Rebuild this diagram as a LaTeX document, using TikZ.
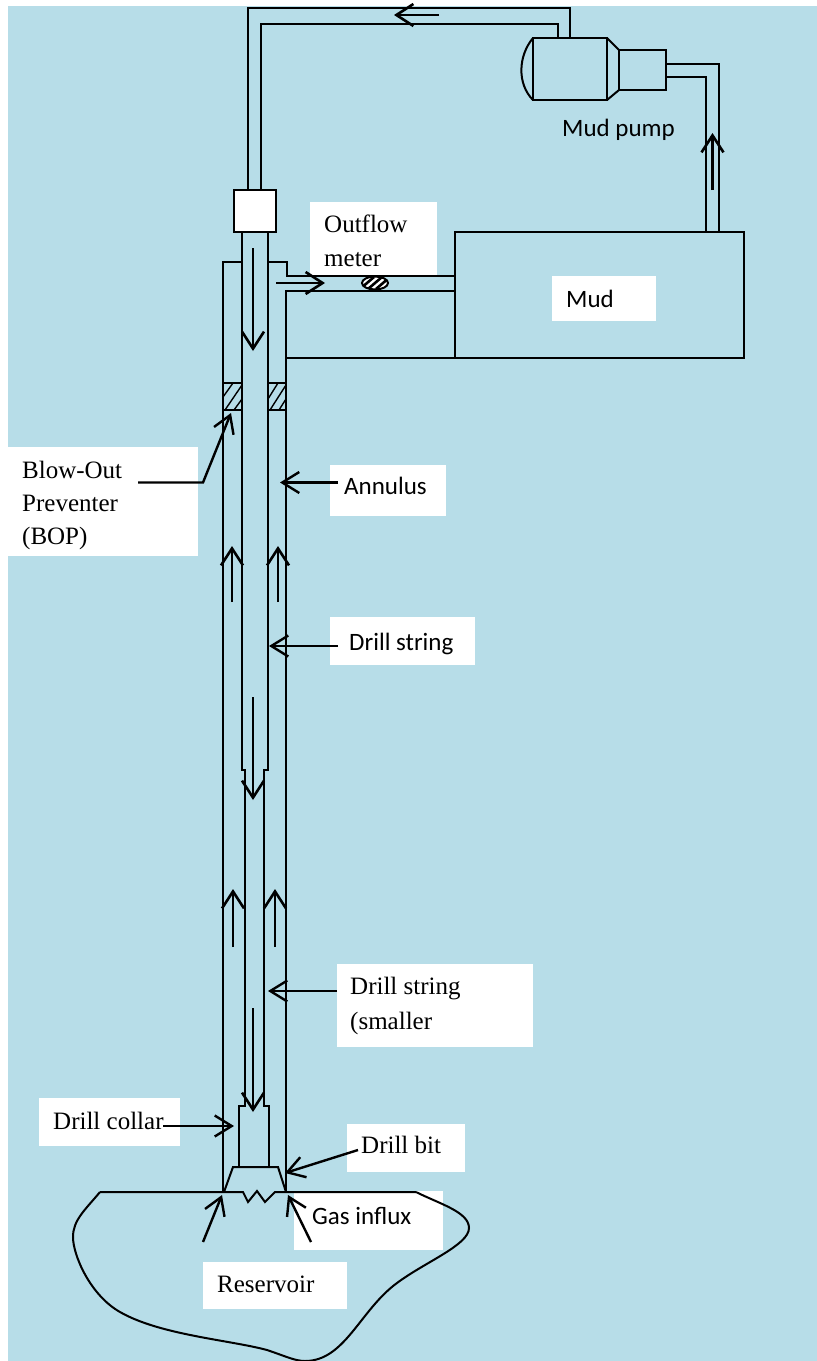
\documentclass[tikz,border=0pt]{standalone}
\usepackage{fontspec}
\setmainfont{Liberation Serif}
\newfontfamily\calib{Carlito}
\usetikzlibrary{arrows.meta}
\definecolor{bgblue}{HTML}{B7DDE8}
\tikzset{
  ln/.style={draw=black,line width=2pt},
  flow/.style={draw=black,line width=2.6pt,-{Straight Barb[length=17pt,width=22pt,line width=2.6pt]}},
  leader/.style={draw=black,line width=2.4pt,-{Straight Barb[length=17pt,width=21pt,line width=2.4pt]}},
  whitebox/.style={fill=white,draw=none},
  lab/.style={anchor=base west,inner sep=0pt,font=\fontsize{25}{25}\selectfont},
  calab/.style={anchor=base west,inner sep=0pt,font=\calib\fontsize{25}{25}\selectfont},
  hatchline/.style={draw=black,line width=1.4pt}
}
\begin{document}
\begin{tikzpicture}[x=1pt,y=-1pt]
\useasboundingbox (0,0) rectangle (817,1361);
\fill[white] (0,0) rectangle (817,1361);
\fill[bgblue] (8,6) rectangle (817,1361);
% white label boxes
\fill[whitebox] (310,202) rectangle (437,275);
\fill[whitebox] (552,276) rectangle (656,321);
\fill[whitebox] (8,447) rectangle (198,556);
\fill[whitebox] (330,465) rectangle (446,516);
\fill[whitebox] (330,617) rectangle (475,665);
\fill[whitebox] (337,964) rectangle (533,1047);
\fill[whitebox] (39,1098) rectangle (180,1146);
\fill[whitebox] (347,1124) rectangle (465,1172);
\fill[whitebox] (294,1191) rectangle (443,1250);
\fill[whitebox] (203,1262) rectangle (347,1309);
% supply pipe
\draw[ln] (248,190) -- (248,8) -- (570,8) -- (570,38);
\draw[ln] (261,190) -- (261,24) -- (558,24) -- (558,38);
\draw[flow] (439,15) -- (394,15);
% pump
\draw[ln] (533,38) rectangle (607,100);
\draw[ln] (533,38) .. controls (518,56) and (517,84) .. (533,100);
\draw[ln] (607,38) -- (619,50);
\draw[ln] (607,100) -- (619,90);
\draw[ln] (619,50) rectangle (666,90);
\draw[ln] (666,64) -- (719,64) -- (719,232);
\draw[ln] (666,77) -- (706,77) -- (706,232);
\draw[flow] (712.5,190) -- (712.5,133);
% mud tank
\draw[ln] (455,232) rectangle (744,358);
\draw[ln] (286,358) -- (455,358);
% swivel
\draw[ln,fill=white] (233.5,190) rectangle (275.5,232);
% drill string
\draw[ln] (242,232) -- (242,770) -- (245,770) -- (245,1106) -- (239,1106) -- (239,1168);
\draw[ln] (268,232) -- (268,770) -- (264,770) -- (264,1106) -- (269,1106) -- (269,1168);
% casing
\draw[ln] (242,262) -- (223,262) -- (223,1192);
\draw[ln] (268,262) -- (287,262) -- (287,276) -- (455,276);
\draw[ln] (455,291) -- (286,291) -- (286,1192);
% BOP
\draw[ln] (223,383) rectangle (242,410);
\draw[ln] (268,383) rectangle (286,410);
\foreach \xa/\ya/\xb/\yb in {223/397/233/383,225/410/242/385,234/410/242/399}
  \draw[hatchline] (\xa,\ya) -- (\xb,\yb);
\foreach \xa/\ya/\xb/\yb in {268/399/278/383,270/410/286/385,279/410/286/399}
  \draw[hatchline] (\xa,\ya) -- (\xb,\yb);
% flow meter
\draw[line width=2pt,fill=white] (375,283) ellipse (13 and 6.5);
\begin{scope}
\clip (375,283) ellipse (13 and 6.5);
\foreach \d in {-8,0,8}
  \draw[line width=2.6pt] (375+\d-7,289) -- (375+\d+7,277);
\end{scope}
% flow arrows
\draw[flow] (276,283) -- (325,283);
\draw[flow] (253,248) -- (253,351);
\draw[flow] (253,697) -- (253,800);
\draw[flow] (253,1008) -- (253,1112);
\draw[flow] (232,602) -- (232,546);
\draw[flow] (278,602) -- (278,546);
\draw[flow] (233,947) -- (233,889);
\draw[flow] (275,947) -- (275,889);
% bit and reservoir
\draw[ln] (224,1192) -- (233,1167) -- (278,1167) -- (286,1192);
\draw[ln] (100,1192) -- (243,1192) -- (248,1202) -- (257,1191) -- (265,1202) -- (275,1192) -- (416,1192);
\draw[ln] (100,1192) .. controls (85,1210) and (73,1220) .. (73,1237) .. controls (73,1255) and (90,1295) .. (120,1312) .. controls (160,1335) and (230,1340) .. (267,1350) .. controls (285,1356) and (295,1361) .. (305,1361) .. controls (345,1361) and (360,1310) .. (397,1283) .. controls (425,1262) and (469,1245) .. (469,1228) .. controls (469,1212) and (440,1204) .. (416,1192);
% labels
\node[calab] (pumplabel) at (562,136) {Mud pump};
\node[calab] (mudlabel) at (566,307) {Mud};
\node[lab] (outflow1) at (324,232) {Outflow};
\node[lab] (outflow2) at (324,266) {meter};
\node[lab] (bop1) at (22,478) {Blow-Out};
\node[lab] (bop2) at (22,511) {Preventer};
\node[lab] (bop3) at (22,544) {(BOP)};
\node[calab] (annulus) at (344,494) {Annulus};
\node[calab] (string1) at (349,650) {Drill string};
\node[lab] (string2a) at (350,994) {Drill string};
\node[lab] (string2b) at (350,1029) {(smaller};
\node[lab] (collar) at (53,1129) {Drill collar};
\node[lab] (bit) at (361,1153) {Drill bit};
\node[calab] (gas) at (312,1224) {Gas influx};
\node[lab] (reservoir) at (217,1292) {Reservoir};
% leaders
\draw[leader] (138,482.5) -- (203,482.5) -- (231,413);
\draw[leader] (338,482.5) -- (280,482.5);
\draw[leader] (338,646) -- (269,646);
\draw[leader] (337,991) -- (268,991);
\draw[leader] (163,1126) -- (234,1126);
\draw[leader] (358,1150) -- (285,1173);
\draw[leader] (203,1242) -- (222,1195);
\draw[leader] (311,1242) -- (288,1195);
\end{tikzpicture}
\end{document}
